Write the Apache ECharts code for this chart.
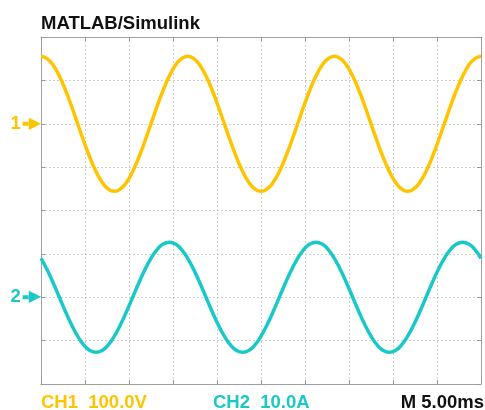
<!DOCTYPE html>
<html>
<head>
<meta charset="utf-8">
<script src="https://cdn.jsdelivr.net/npm/echarts@6/dist/echarts.min.js"></script>
<style>html,body{margin:0;padding:0;background:#fff}#c{width:485px;height:410px}</style>
</head>
<body>
<div id="c"></div>
<script>
// time (ms)
var timeMs = [0,0.694,1.389,2.083,2.778,3.472,4.167,4.861,5.556,6.25,6.944,7.639,8.333,9.028,9.722,10.417,11.111,11.806,12.5,13.194,13.889,14.583,15.278,15.972,
16.667,17.361,18.056,18.75,19.444,20.139,20.833,21.528,22.222,22.917,23.611,24.306,25,25.694,26.389,27.083,27.778,28.472,29.167,29.861,30.556,31.25,31.944,32.639,
33.333,34.028,34.722,35.417,36.111,36.806,37.5,38.194,38.889,39.583,40.278,40.972,41.667,42.361,43.056,43.75,44.444,45.139,45.833,46.528,47.222,47.917,48.611,49.306,50];
// CH1 voltage (V)
var ch1Volts = [155.6,150.3,134.8,110.0,77.8,40.3,0,-40.3,-77.8,-110.0,-134.8,-150.3,-155.6,-150.3,-134.8,-110.0,-77.8,-40.3,0,40.3,77.8,110.0,134.8,150.3,
155.6,150.3,134.8,110.0,77.8,40.3,0,-40.3,-77.8,-110.0,-134.8,-150.3,-155.6,-150.3,-134.8,-110.0,-77.8,-40.3,0,40.3,77.8,110.0,134.8,150.3,
155.6,150.3,134.8,110.0,77.8,40.3,0,-40.3,-77.8,-110.0,-134.8,-150.3,-155.6,-150.3,-134.8,-110.0,-77.8,-40.3,0,40.3,77.8,110.0,134.8,150.3,155.6];
// CH2 current (A)
var ch2Amps = [8.98,6.35,3.29,0,-3.29,-6.35,-8.98,-11.0,-12.27,-12.7,-12.27,-11.0,-8.98,-6.35,-3.29,0,3.29,6.35,8.98,11.0,12.27,12.7,12.27,11.0,
8.98,6.35,3.29,0,-3.29,-6.35,-8.98,-11.0,-12.27,-12.7,-12.27,-11.0,-8.98,-6.35,-3.29,0,3.29,6.35,8.98,11.0,12.27,12.7,12.27,11.0,
8.98,6.35,3.29,0,-3.29,-6.35,-8.98,-11.0,-12.27,-12.7,-12.27,-11.0,-8.98,-6.35,-3.29,0,3.29,6.35,8.98,11.0,12.27,12.7,12.27,11.0,8.98];

var titleText = 'MATLAB/Simulink';
var ch1Label = 'CH1  100.0V';
var ch2Label = 'CH2  10.0A';
var timeLabel = 'M 5.00ms';

var YEL = '#FFC400', CYA = '#19C8C8';
var FONT = 'Liberation Sans, Arial, sans-serif';

function pairs(t, v){ return t.map(function(x,i){ return [x, v[i]]; }); }

var tickStyle = {show:true, inside:true, length:4, lineStyle:{color:'#999', width:1}};
var lineStyle = {show:true, onZero:false, lineStyle:{color:'#a0a0a0', width:1}};
var splitStyle = {show:true, lineStyle:{color:'#cfcfcf', width:1, type:[2,2]}};

function marker(num, color){
  return {
    show:true, margin:0, interval:0,
    formatter:function(v){ return v === 0 ? '{n|' + num + '}{s|}{t|▶}' : ''; },
    rich:{
      n:{fontFamily:FONT, fontWeight:'bold', fontSize:18.5, color:color, padding:[0,2,0,0]},
      s:{width:6, height:4, backgroundColor:color},
      t:{fontFamily:'DejaVu Sans', fontSize:16, color:color}
    }
  };
}

var tStyle = function(c){ return {fontFamily:FONT, fontWeight:'bold', fontSize:18.5, color:c}; };

var chart = echarts.init(document.getElementById('c'), null, {renderer:'canvas'});
chart.setOption({
  animation:false,
  backgroundColor:'#fff',
  title:[
    {text:titleText, left:41, top:14, padding:0, textStyle:tStyle('#111')},
    {text:ch1Label, left:41, top:393, padding:0, textStyle:tStyle(YEL)},
    {text:ch2Label, left:213, top:393, padding:0, textStyle:tStyle(CYA)},
    {text:timeLabel, right:1, top:393, padding:0, textStyle:tStyle('#111')}
  ],
  grid:{left:41, top:37, right:4, bottom:26, containLabel:false},
  xAxis:[
    {type:'value', position:'bottom', min:0, max:50, interval:5, axisLine:lineStyle, axisTick:tickStyle, axisLabel:{show:false}, splitLine:splitStyle},
    {type:'value', position:'top', min:0, max:50, interval:5, axisLine:lineStyle, axisTick:tickStyle, axisLabel:{show:false}, splitLine:{show:false}}
  ],
  yAxis:[
    {type:'value', position:'left', min:-600, max:200, interval:100, axisLine:lineStyle, axisTick:tickStyle, axisLabel:marker('1', YEL), splitLine:splitStyle},
    {type:'value', position:'left', min:-20, max:60, interval:10, axisLine:{show:false, onZero:false}, axisTick:{show:false}, axisLabel:marker('2', CYA), splitLine:{show:false}},
    {type:'value', position:'right', min:-600, max:200, interval:100, axisLine:lineStyle, axisTick:tickStyle, axisLabel:{show:false}, splitLine:{show:false}}
  ],
  series:[
    {name:'CH1', type:'line', xAxisIndex:0, yAxisIndex:0, data:pairs(timeMs, ch1Volts), showSymbol:false, symbol:'none', smooth:0.5, lineStyle:{color:YEL, width:3.5}, z:3},
    {name:'CH2', type:'line', xAxisIndex:0, yAxisIndex:1, data:pairs(timeMs, ch2Amps), showSymbol:false, symbol:'none', smooth:0.5, lineStyle:{color:CYA, width:3.5}, z:3}
  ]
});
</script>
</body>
</html>
